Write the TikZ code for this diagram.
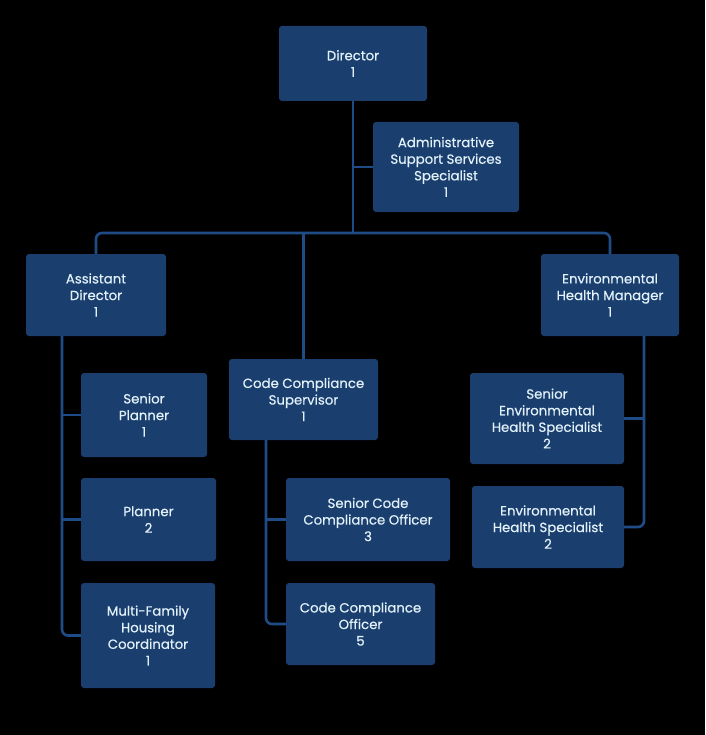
\documentclass[tikz,border=0pt]{standalone}
\usepackage{fontspec}
\setmainfont{Poppins}[FakeBold=0.5]
\definecolor{boxblue}{HTML}{1A3F6F}
\definecolor{linkblue}{HTML}{1F4B86}
\definecolor{txt}{HTML}{E2F1F8}
\begin{document}
\begin{tikzpicture}[x=1pt,y=-1pt,
  box/.style={fill=boxblue, rounded corners=3pt, text=txt, align=center,
    font=\fontsize{13.3}{16.6}\selectfont, inner sep=0pt},
  conn/.style={draw=linkblue, line width=2.6pt, rounded corners=6pt}]
\fill[black] (0,0) rectangle (705,735);
\useasboundingbox (0,0) rectangle (705,735);

\node[box, minimum width=148, minimum height=75] (dir) at (353,63.5) {Director\\1};
\node[box, minimum width=146, minimum height=90] (adm) at (446,167) {Administrative\\Support Services\\Specialist\\1};
\node[box, minimum width=140, minimum height=82] (ad) at (96,295) {Assistant\\Director\\1};
\node[box, minimum width=138, minimum height=82] (ehm) at (610,295) {Environmental\\Health Manager\\1};
\node[box, minimum width=149, minimum height=81] (ccs) at (303.5,399.5) {Code Compliance\\Supervisor\\1};
\node[box, minimum width=126, minimum height=84] (sp) at (144,415) {Senior\\Planner\\1};
\node[box, minimum width=135, minimum height=83] (pl) at (148.5,519.5) {Planner\\2};
\node[box, minimum width=134, minimum height=105] (mf) at (148,635.5) {Multi-Family\\Housing\\Coordinator\\1};
\node[box, minimum width=164, minimum height=83] (scco) at (368,519.5) {Senior Code\\Compliance Officer\\3};
\node[box, minimum width=149, minimum height=82] (cco) at (360.5,624) {Code Compliance\\Officer\\5};
\node[box, minimum width=154, minimum height=91] (sehs) at (547,418.5) {Senior\\Environmental\\Health Specialist\\2};
\node[box, minimum width=152, minimum height=82] (ehs) at (548,527) {Environmental\\Health Specialist\\2};

\coordinate (busL) at (96,233);
\coordinate (busR) at (610,233);
\coordinate (busM) at (dir.south |- busL);
\coordinate (admJ) at (dir.south |- adm.west);
\coordinate (ccsJ) at (ccs.north |- busL);

\draw[conn] (dir.south) -- (busM);
\draw[conn] (admJ) -- (adm.west);
\draw[conn] (ad.north) -- (busL) -- (busR) -- (ehm.north);
\draw[conn] (ccsJ) -- (ccs.north);

% Assistant Director branch
\coordinate (adB) at ([xshift=-34]ad.south);
\draw[conn] (adB) |- (mf.west);
\draw[conn] (adB |- sp.west) -- (sp.west);
\draw[conn] (adB |- pl.west) -- (pl.west);

% Code Compliance Supervisor branch
\coordinate (ccsB) at ([xshift=-37.5]ccs.south);
\draw[conn] (ccsB) |- (cco.west);
\draw[conn] (ccsB |- scco.west) -- (scco.west);

% Environmental Health Manager branch
\coordinate (ehmB) at ([xshift=34]ehm.south);
\draw[conn] (ehmB) |- (ehs.east);
\draw[conn] (ehmB |- sehs.east) -- (sehs.east);
\end{tikzpicture}
\end{document}
